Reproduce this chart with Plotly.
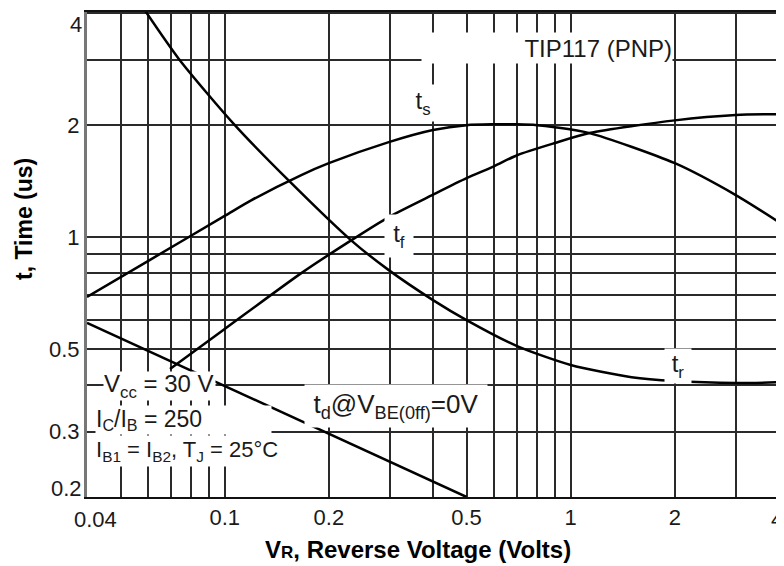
import numpy as np
import plotly.graph_objects as go

# ---- data ----
tr_x = [0.0585, 0.074, 0.107, 0.153, 0.232, 0.298, 0.4, 0.5, 0.7, 1.0, 1.5, 2.0, 3.0, 4.0]
tr_y = [4.1, 3.0, 2.0, 1.42, 0.98, 0.815, 0.677, 0.598, 0.509, 0.453, 0.42, 0.41, 0.405, 0.407]

ts_x = [0.04, 0.06, 0.1, 0.1196, 0.1665, 0.2, 0.298, 0.4, 0.5, 0.6, 0.7, 0.8, 0.9, 1.134, 2.0, 3.0, 4.0]
ts_y = [0.69, 0.862, 1.14, 1.257, 1.468, 1.58, 1.80, 1.94, 2.0, 2.01, 2.01, 2.0, 1.975, 1.904, 1.58, 1.297, 1.097]

tf_x = [0.0695, 0.1, 0.1665, 0.232, 0.298, 0.4, 0.5, 0.6, 0.7, 0.9, 1.134, 2.0, 3.0, 4.0]
tf_y = [0.442, 0.566, 0.80, 0.98, 1.132, 1.30, 1.44, 1.55, 1.66, 1.79, 1.904, 2.06, 2.13, 2.14]

td_x = [0.04, 0.5]
td_y = [0.588, 0.2]

x_grid = [0.04, 0.05, 0.06, 0.07, 0.08, 0.09, 0.1, 0.2, 0.3, 0.4, 0.5, 0.6, 0.7, 0.8, 0.9, 1, 2, 3, 4]
x_labeled = {0.1: "0.1", 0.2: "0.2", 0.5: "0.5", 1: "1", 2: "2"}
x_edge_labels = ["0.04", "4"]
y_grid = [0.2, 0.3, 0.4, 0.5, 0.6, 0.7, 0.8, 0.9, 1, 2, 3, 4]
y_labeled = {0.3: "0.3", 0.5: "0.5", 1: "1", 2: "2"}
y_edge_labels = ["0.2", "4"]

FONT = "Liberation Sans, Arial, sans-serif"
INK = "#1a1a1a"
GRID = "#2a2a2a"

fig = go.Figure()
for xs, ys in [(tr_x, tr_y), (ts_x, ts_y), (tf_x, tf_y), (td_x, td_y)]:
    fig.add_trace(go.Scatter(x=xs, y=ys, mode="lines",
                             line=dict(color="black", width=2.5, shape="spline", smoothing=0.7),
                             showlegend=False, hoverinfo="skip"))

# page body has an 8px margin; the plot area should sit at x 87..779, y 12..497 on the page
OFF = 8
PL, PR, PT, PB = 87, 779, 12, 497
W, H = 784 - OFF, 566 - OFF
L, T = PL - OFF, PT - OFF
R = W - (PR - OFF)
B = H - (PB - OFF)
pw, ph = PR - PL, PB - PT

def px(xp):
    return (xp - PL) / pw

def py(yp):
    return (PB - yp) / ph

def ann(text, xp, yp, size=22, xanchor="center", width=None, height=None, align="center", bg="white"):
    d = dict(text=text, x=px(xp), y=py(yp), xref="paper", yref="paper",
             xanchor=xanchor, yanchor="middle", showarrow=False,
             font=dict(family=FONT, size=size, color=INK),
             bgcolor=bg, borderpad=0, align=align)
    if width:
        d["width"] = width
    if height:
        d["height"] = height
    fig.add_annotation(**d)

ann("TIP117 (PNP)", 547, 48, size=24, width=250, height=30, align="right")
ann("t<sub>s</sub>", 423, 103, size=24, width=26, height=36)
ann("t<sub>f</sub>", 399, 236, size=24, width=28, height=42)
ann("t<sub>r</sub>", 678, 366, size=24, width=26, height=34)
ann("t<sub>d</sub>@V<sub>BE(0ff)</sub>=0V", 396, 406, size=26, width=182, height=42)
ann("V<sub>cc</sub> = 30 V", 103, 386, size=24, xanchor="left", width=111, height=28, align="left")
ann("I<sub>C</sub>/I<sub>B</sub> = 250", 95, 420, size=23, xanchor="left", width=175, height=28, align="left")
ann("I<sub>B1</sub> = I<sub>B2</sub>, T<sub>J</sub> = 25°C", 95, 451, size=22, xanchor="left", width=182, height=30, align="left")

# edge tick labels (sit inside the ends of the axes, as in the reference)
ann(y_edge_labels[0], 83, 488, xanchor="right", bg="rgba(0,0,0,0)")
ann(y_edge_labels[1], 83, 24, xanchor="right", bg="rgba(0,0,0,0)")
ann(x_edge_labels[0], 95, 519, bg="rgba(0,0,0,0)")
ann(x_edge_labels[1], 777, 519, bg="rgba(0,0,0,0)")

# axis titles
fig.add_annotation(text="<b>V<span style='font-size:17px'>R</span>, Reverse Voltage (Volts)</b>",
                   x=px(418), y=py(549), xref="paper", yref="paper", showarrow=False,
                   font=dict(family=FONT, size=24, color="black"), xanchor="center", yanchor="middle")
fig.add_annotation(text="<b>t, Time (us)</b>", textangle=-90,
                   x=px(24), y=py(219), xref="paper", yref="paper", showarrow=False,
                   font=dict(family=FONT, size=23, color="black"), xanchor="center", yanchor="middle")

fig.update_xaxes(type="log", range=[np.log10(0.04), np.log10(4)],
                 tickvals=x_grid, ticktext=[x_labeled.get(v, "") for v in x_grid],
                 showgrid=True, gridcolor=GRID, gridwidth=1.6, zeroline=False,
                 showline=True, linecolor="#111", linewidth=2, mirror=True,
                 ticks="", ticklabeloverflow="allow", automargin=False,
                 tickfont=dict(family=FONT, size=22, color=INK))
fig.update_yaxes(type="log", range=[np.log10(0.2), np.log10(4.03)],
                 tickvals=y_grid, ticktext=[y_labeled.get(v, "") for v in y_grid],
                 showgrid=True, gridcolor=GRID, gridwidth=1.6, zeroline=False,
                 showline=True, linecolor="#777", linewidth=3, mirror=True,
                 ticks="", ticklabeloverflow="allow", automargin=False,
                 tickfont=dict(family=FONT, size=22, color=INK))

fig.update_layout(width=W, height=H, margin=dict(l=L, r=R, t=T, b=B, autoexpand=False),
                  plot_bgcolor="white", paper_bgcolor="white")

fig.write_html("out.html")
